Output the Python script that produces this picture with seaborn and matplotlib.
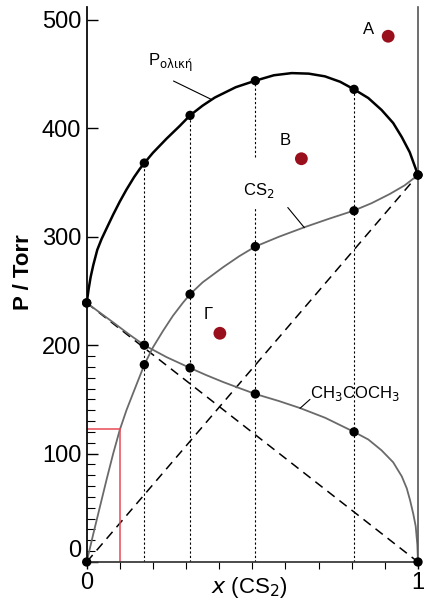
import numpy as np
import pandas as pd
import matplotlib
matplotlib.use("Agg")
import matplotlib.pyplot as plt
import seaborn as sns

# measured points (dots)
x_meas = [0.0, 0.174, 0.312, 0.509, 0.807, 1.0]
p_total_meas = [239, 368, 412, 444, 436, 357]
p_cs2_meas = [0, 182, 247, 291, 324, 357]
p_ace_meas = [239, 200, 179, 155, 120, 0]

# curves
x_total = [0.0, 0.006, 0.012, 0.02, 0.032, 0.045, 0.062, 0.08, 0.1, 0.12, 0.143,
           0.16, 0.174, 0.2, 0.241, 0.28, 0.312, 0.35, 0.387, 0.45, 0.509,
           0.565, 0.619, 0.67, 0.719, 0.765, 0.807, 0.85, 0.89, 0.925, 0.951,
           0.975, 1.0]
p_total = [239, 252, 263, 274, 288, 298, 309, 320.5, 332.5, 343.5, 355,
           362.5, 368, 377.5, 390.5, 402, 412, 421, 428.5, 438, 444,
           449, 451, 450.5, 448, 443, 436, 428, 417, 405, 392,
           378, 357]

x_cs2 = [0.0, 0.02, 0.04, 0.06, 0.08, 0.1, 0.12, 0.143, 0.174, 0.2, 0.23, 0.26,
         0.29, 0.312, 0.35, 0.412, 0.46, 0.509, 0.58, 0.659, 0.73, 0.805, 0.86,
         0.915, 0.96, 1.0]
p_cs2 = [0, 26, 51, 76, 100, 122, 140, 158, 182, 198, 213, 227,
         239, 247, 258, 272, 282, 291, 300, 309, 316.5, 324, 331,
         339.5, 347.5, 357]

x_ace = [0.0, 0.04, 0.08, 0.13, 0.174, 0.241, 0.312, 0.36, 0.412, 0.46, 0.509,
         0.58, 0.644, 0.72, 0.807, 0.85, 0.89, 0.925, 0.951, 0.966, 0.976,
         0.986, 0.993, 0.998, 1.0]
p_ace = [239, 230, 221, 209.5, 200, 189, 179, 172.5, 166, 160.5, 155,
         148.5, 142, 133, 120, 113, 103, 92, 79, 68, 57,
         44, 33, 16, 0]

# ideal (Raoult) lines
x_ideal = [0.0, 1.0]
p_cs2_ideal = [0, 357]
p_ace_ideal = [239, 0]

# state points A, B, Γ
pt_names = ["A", "B", "Γ"]
pt_x = [0.91, 0.648, 0.402]
pt_p = [485, 372, 211]
lbl_x = [0.85, 0.598, 0.367]
lbl_p = [491, 389, 228]

# red marker for reading the CS2 pressure at x = 0.1
x_read = 0.1
p_read = 123

sns.set_theme(style="white")
plt.rcParams['font.family'] = ['Liberation Sans', 'DejaVu Sans']
plt.rcParams['text.color'] = 'black'
plt.rcParams['axes.labelcolor'] = 'black'
plt.rcParams['xtick.color'] = 'black'
plt.rcParams['ytick.color'] = 'black'

fig = plt.figure(figsize=(4.30, 6.01), dpi=100)
ax = fig.add_axes([0.2016, 0.0649, 0.7705, 0.9235])

df_tot = pd.DataFrame({"x": x_total, "p": p_total})
df_cs2 = pd.DataFrame({"x": x_cs2, "p": p_cs2})
df_ace = pd.DataFrame({"x": x_ace, "p": p_ace})

# vertical dotted lines from axis up to total pressure
for xv, pv in zip(x_meas[1:-1], p_total_meas[1:-1]):
    if abs(xv - 0.509) < 1e-6:
        # broken around the CS2 label
        ax.plot([xv, xv], [0, 327], color="black", lw=0.8, ls=(0, (2, 2)))
        ax.plot([xv, xv], [374, pv], color="black", lw=0.8, ls=(0, (2, 2)))
    else:
        ax.plot([xv, xv], [0, pv], color="black", lw=0.8, ls=(0, (2, 2)))

# ideal lines
ax.plot(x_ideal, p_cs2_ideal, color="black", lw=1.1, ls=(0, (6, 4)))
ax.plot(x_ideal, p_ace_ideal, color="black", lw=1.1, ls=(0, (6, 4)))

# curves
sns.lineplot(data=df_cs2, x="x", y="p", ax=ax, color="#6a6a6a", lw=1.3,
             sort=False, estimator=None)
sns.lineplot(data=df_ace, x="x", y="p", ax=ax, color="#6a6a6a", lw=1.3,
             sort=False, estimator=None)
sns.lineplot(data=df_tot, x="x", y="p", ax=ax, color="black", lw=1.8,
             sort=False, estimator=None)

# red read-off lines
ax.plot([0, x_read], [p_read, p_read], color="#e84a55", lw=1.1)
ax.plot([x_read, x_read], [p_read, 0], color="#e84a55", lw=1.1)

# measured dots
for pp in (p_total_meas, p_cs2_meas, p_ace_meas):
    ax.scatter(x_meas, pp, s=45, color="black", zorder=5, clip_on=False,
               edgecolor="none")

# state points
ax.scatter(pt_x, pt_p, s=85, color="#9a0f1c", zorder=5, edgecolor="none")
for name, lx, lp in zip(pt_names, lbl_x, lbl_p):
    ax.text(lx, lp, name, fontsize=12, ha="center", va="center")

# curve labels with leader lines
ax.text(0.252, 460, r"P$_{\rm ολική}$", fontsize=12, ha="center", va="center")
ax.plot([0.262, 0.375], [443.7, 426.9], color="black", lw=0.8)
ax.text(0.518, 343, r"CS$_2$", fontsize=12, ha="center", va="center")
ax.plot([0.607, 0.657], [327, 308.4], color="black", lw=0.8)
ax.text(0.81, 155.6, r"CH$_3$COCH$_3$", fontsize=12, ha="center", va="center")
ax.plot([0.674, 0.644], [150, 141.8], color="black", lw=0.8)

ax.set_xlim(0, 1)
ax.set_ylim(0, 512)
ax.set_xticks([0, 1])
ax.set_xticklabels(["0", "1"])
ax.set_xticks(np.arange(0.1, 1.0, 0.1), minor=True)
ax.set_yticks([0, 100, 200, 300, 400, 500])
ax.set_yticks(np.arange(10, 200, 10), minor=True)
ax.tick_params(axis="y", which="major", direction="in", length=8, width=1,
               labelsize=17, pad=4, left=True)
ax.tick_params(axis="y", which="minor", direction="in", length=6, width=0.8,
               left=True)
ax.tick_params(axis="x", which="major", direction="out", length=5, width=1,
               labelsize=17, pad=2, bottom=True)
ax.tick_params(axis="x", which="minor", direction="out", length=5, width=0.8,
               bottom=True)
ax.get_yticklabels()[0].set_va("bottom")

ax.spines["top"].set_visible(False)
ax.spines["left"].set_color("black")
ax.spines["bottom"].set_color("#333333")
ax.spines["right"].set_color("#555555")
ax.spines["right"].set_linewidth(1.2)

ax.set_ylabel("P / Torr", fontsize=16, fontweight="bold")
ax.yaxis.set_label_coords(-0.159, 0.523)
ax.set_xlabel("")
fig.text(249 / 430, 1 - 588 / 601, r"$\it{x}$ (CS$_2$)", fontsize=16,
         ha="center", va="center")
ax.grid(False)

fig.savefig("out.png", dpi=100)
